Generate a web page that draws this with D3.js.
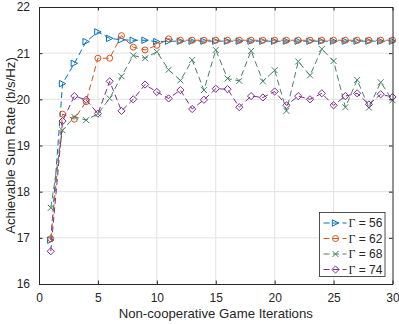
<!DOCTYPE html>
<html>
<head>
<meta charset="utf-8">
<script src="https://cdn.jsdelivr.net/npm/d3@7"></script>
<style>
  body { margin: 0; background: #fff; }
  text { font-family: "Liberation Sans", Arial, sans-serif; fill: #262626; }
</style>
</head>
<body>
<div id="chart"></div>
<script>
const iterations = d3.range(1, 31);

const gammaLabels = ["56", "62", "68", "74"];
const seriesColors = ["#0072BD", "#D95319", "#468264", "#7E2F8E"];
const markerTypes = ["triangle", "circle", "cross", "diamond"];

const rate56 = [16.95, 20.34, 20.78, 21.25, 21.46, 21.32, 21.29, 21.28, 21.28, 21.25,
  21.26, 21.26, 21.26, 21.26, 21.26, 21.26, 21.26, 21.26, 21.26, 21.26,
  21.26, 21.26, 21.26, 21.26, 21.26, 21.26, 21.26, 21.26, 21.26, 21.26];
const rate62 = [16.98, 19.68, 19.57, 19.95, 20.89, 20.89, 21.38, 21.13, 21.07, 21.17,
  21.31, 21.28, 21.28, 21.28, 21.28, 21.28, 21.28, 21.28, 21.28, 21.28,
  21.28, 21.28, 21.28, 21.28, 21.28, 21.28, 21.28, 21.28, 21.28, 21.28];
const rate68 = [17.65, 19.33, 19.62, 19.55, 19.69, 20.02, 20.50, 20.95, 20.89, 21.03,
  20.64, 20.41, 20.85, 20.20, 21.07, 20.45, 20.40, 21.05, 20.39, 20.63,
  19.75, 20.82, 20.52, 21.09, 20.83, 19.83, 20.42, 19.82, 20.37, 19.98];
const rate74 = [16.71, 19.53, 20.07, 19.99, 19.69, 20.39, 19.75, 20.00, 20.32, 20.16,
  20.02, 20.20, 19.79, 19.99, 20.23, 20.22, 19.83, 20.07, 20.04, 20.17,
  19.87, 20.07, 20.00, 20.13, 19.87, 20.07, 20.13, 19.89, 20.11, 20.05];

const xTicks = [0, 5, 10, 15, 20, 25, 30];
const yTicks = [16, 17, 18, 19, 20, 21, 22];

const allRates = [rate56, rate62, rate68, rate74];

const width = 399;
const height = 324;
const margin = { top: 7, right: 6.5, bottom: 40, left: 39 };

const svg = d3.select("#chart")
  .append("svg")
  .attr("width", width)
  .attr("height", height);

const x = d3.scaleLinear()
  .domain([0, 30])
  .range([margin.left, width - margin.right]);

const y = d3.scaleLinear()
  .domain([16, 22])
  .range([height - margin.bottom, margin.top]);

// grid
const grid = svg.append("g").attr("stroke", "#e3e3e3").attr("stroke-width", 1);
grid.selectAll("line.gx")
  .data(xTicks.slice(1, -1))
  .join("line")
  .attr("x1", d => x(d)).attr("x2", d => x(d))
  .attr("y1", y(16)).attr("y2", y(22));
grid.selectAll("line.gy")
  .data(yTicks.slice(1, -1))
  .join("line")
  .attr("x1", x(0)).attr("x2", x(30))
  .attr("y1", d => y(d)).attr("y2", d => y(d));

function drawMarker(g, type, cx, cy, color) {
  const s = 3.2;
  if (type === "circle") {
    g.append("circle").attr("cx", cx).attr("cy", cy).attr("r", 3)
      .attr("fill", "none").attr("stroke", color);
  } else if (type === "triangle") {
    g.append("path")
      .attr("d", `M${cx + s},${cy} L${cx - s},${cy - s} L${cx - s},${cy + s} Z`)
      .attr("fill", "none").attr("stroke", color);
  } else if (type === "cross") {
    g.append("path")
      .attr("d", `M${cx - 3},${cy - 3} L${cx + 3},${cy + 3} M${cx - 3},${cy + 3} L${cx + 3},${cy - 3}`)
      .attr("stroke", color);
  } else {
    g.append("path")
      .attr("d", `M${cx},${cy - 3.6} L${cx + 3.6},${cy} L${cx},${cy + 3.6} L${cx - 3.6},${cy} Z`)
      .attr("fill", "none").attr("stroke", color);
  }
}

const line = d3.line()
  .x((d, i) => x(iterations[i]))
  .y(d => y(d));

allRates.forEach((rates, k) => {
  const g = svg.append("g");
  g.append("path")
    .datum(rates)
    .attr("fill", "none")
    .attr("stroke", seriesColors[k])
    .attr("stroke-width", 1)
    .attr("stroke-dasharray", "6,3.5")
    .attr("d", line);
  rates.forEach((v, i) => drawMarker(g, markerTypes[k], x(iterations[i]), y(v), seriesColors[k]));
});

// axes (box with inward ticks on all sides)
const axisColor = "#262626";
function styleAxis(g, hideLabels) {
  g.select(".domain").attr("stroke", axisColor);
  g.selectAll(".tick line").attr("stroke", axisColor);
  g.selectAll(".tick text")
    .attr("font-size", 12)
    .attr("font-family", "'Liberation Sans', Arial, sans-serif")
    .attr("fill", axisColor);
  if (hideLabels) g.selectAll(".tick text").remove();
}

const fmt = d3.format("d");

svg.append("g")
  .attr("transform", `translate(0,${y(16)})`)
  .call(d3.axisBottom(x).tickValues(xTicks).tickFormat(fmt).tickSize(-3.5).tickSizeOuter(0).tickPadding(9))
  .call(g => styleAxis(g, false));

svg.append("g")
  .attr("transform", `translate(0,${y(22)})`)
  .call(d3.axisTop(x).tickValues(xTicks).tickSize(-3.5).tickSizeOuter(0))
  .call(g => styleAxis(g, true));

svg.append("g")
  .attr("transform", `translate(${x(0)},0)`)
  .call(d3.axisLeft(y).tickValues(yTicks).tickFormat(fmt).tickSize(-3.5).tickSizeOuter(0).tickPadding(9))
  .call(g => styleAxis(g, false));

svg.append("g")
  .attr("transform", `translate(${x(30)},0)`)
  .call(d3.axisRight(y).tickValues(yTicks).tickSize(-3.5).tickSizeOuter(0))
  .call(g => styleAxis(g, true));

// axis labels
svg.append("text")
  .attr("x", (x(0) + x(30)) / 2)
  .attr("y", 318)
  .attr("text-anchor", "middle")
  .attr("font-size", 13.2)
  .text("Non-cooperative Game Iterations");

svg.append("text")
  .attr("transform", `translate(14.5,${(y(16) + y(22)) / 2}) rotate(-90)`)
  .attr("text-anchor", "middle")
  .attr("font-size", 13.2)
  .text("Achievable Sum Rate (b/s/Hz)");

// legend
const legend = svg.append("g").attr("transform", "translate(319.5,212.5)");
legend.append("rect")
  .attr("width", 65.5).attr("height", 64)
  .attr("fill", "#fff")
  .attr("stroke", axisColor)
  .attr("stroke-width", 0.8);

gammaLabels.forEach((lab, k) => {
  const ly = 10.5 + k * 15.5;
  legend.append("line")
    .attr("x1", 4).attr("x2", 27)
    .attr("y1", ly).attr("y2", ly)
    .attr("stroke", seriesColors[k])
    .attr("stroke-dasharray", "6,3.5");
  drawMarker(legend, markerTypes[k], 16, ly, seriesColors[k]);
  const t = legend.append("text")
    .attr("x", 29).attr("y", ly + 4.3)
    .attr("font-size", 12);
  t.append("tspan").attr("font-family", "'Liberation Serif', 'Times New Roman', serif").text("\u0393");
  t.append("tspan").text(" = " + lab);
});
</script>
</body>
</html>
